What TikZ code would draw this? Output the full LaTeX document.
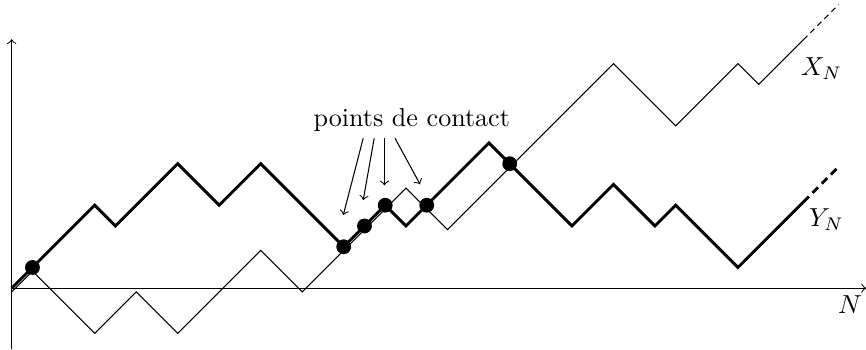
\documentclass[tikz,border=0pt]{standalone}
\usepackage{amsmath}
\usepackage{tikz}
\usetikzlibrary{arrows}

\begin{document}
\begin{tikzpicture}[x=0.28cm, y=0.28cm,
  marcheX/.style={line width=0.4pt},
  marcheY/.style={line width=1.1pt},
  contact/.style={circle, fill=black, inner sep=0pt, minimum size=2mm},
  fleche/.style={->, line width=0.4pt}
]
  \useasboundingbox (-0.564,-2.97) rectangle (41.17,13.89);

  % axes
  \coordinate (O) at (0,0);
  \coordinate (Nend) at (41.17,0);
  \coordinate (Ybas) at (0,-2.95);
  \coordinate (Yhaut) at (0,12);
  \draw[->] (O) -- (Nend);
  \draw[->] (Ybas) -- (Yhaut);

  % X_N (trait fin)
  \draw[marcheX, yshift=-0.05cm] (0,0) -- (1,1) -- (4,-2) -- (6,0) -- (8,-2) -- (12,2) -- (14,0)
    -- (19,5) -- (21,3) -- (29,11) -- (32,8) -- (35,11) -- (36,10) -- (38.15,12.15);
  \draw[marcheX, yshift=-0.05cm, dash pattern=on 2.2pt off 1.6pt] (38.15,12.15) -- (39.85,13.85);

  % Y_N (trait epais)
  \draw[marcheY] (0,0) -- (4,4) -- (5,3) -- (8,6) -- (10,4) -- (12,6) -- (16,2) -- (18,4)
    -- (19,3) -- (23,7) -- (24,6) -- (27,3) -- (29,5) -- (31,3) -- (32,4) -- (35,1) -- (38.15,4.15);
  \draw[marcheY, dash pattern=on 3pt off 2pt] (38.15,4.15) -- (39.8,5.8);

  % points de contact
  \node[contact] (c1) at (1,1) {};
  \node[contact] (c2) at (16,2) {};
  \node[contact] (c3) at (17,3) {};
  \node[contact] (c4) at (18,4) {};
  \node[contact] (c5) at (20,4) {};
  \node[contact] (c6) at (24,6) {};

  \node[anchor=base] (lbl) at (19.28,7.79) {points de contact};
  \coordinate (s1) at (16.94,7.23);
  \coordinate (s2) at (17.47,7.23);
  \coordinate (s3) at (17.96,7.23);
  \coordinate (s4) at (18.47,7.23);
  \coordinate (t1) at (15.98,3.53);
  \coordinate (t2) at (16.94,4.25);
  \coordinate (t3) at (17.96,4.96);
  \coordinate (t4) at (19.68,5.01);
  \draw[fleche] (s1) -- (t1);
  \draw[fleche] (s2) -- (t2);
  \draw[fleche] (s3) -- (t3);
  \draw[fleche] (s4) -- (t4);

  % etiquettes
  \node[anchor=base west, inner sep=0pt] (xn) at (38.0,10.26) {$X_N$};
  \node[anchor=base west, inner sep=0pt] (yn) at (38.4,2.97) {$Y_N$};
  \node[anchor=base west, inner sep=0pt] (n) at (39.8,-1.21) {$N$};
\end{tikzpicture}
\end{document}
